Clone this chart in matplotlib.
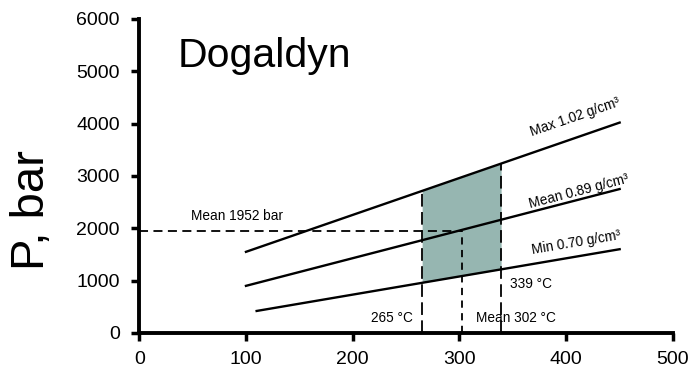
import matplotlib
matplotlib.use("Agg")
import matplotlib.pyplot as plt
import numpy as np

plt.rcParams['font.family'] = ['Liberation Sans', 'DejaVu Sans']

# Data
t_max = [100, 450]
p_max = [1550, 4020]
t_mean = [100, 450]
p_mean = [900, 2750]
t_min = [110, 450]
p_min = [420, 1600]

t_low, t_high, t_avg = 265, 339, 302
p_avg = 1952

xticks = [0, 100, 200, 300, 400, 500]
yticks = [0, 1000, 2000, 3000, 4000, 5000, 6000]

fig = plt.figure(figsize=(6.96, 3.72), dpi=100)
ax = fig.add_axes([0.2, 0.105, 0.767, 0.844])

def interp(t, ts, ps):
    return np.interp(t, ts, ps)

# shaded region
xs = np.linspace(t_low, t_high, 50)
ax.fill_between(xs, interp(xs, t_min, p_min), interp(xs, t_max, p_max),
                color='#96b6b1', linewidth=0, zorder=1)

# lines
for ts, ps in [(t_max, p_max), (t_mean, p_mean), (t_min, p_min)]:
    ax.plot(ts, ps, color='black', linewidth=1.7, zorder=3)

# dashed guides
ax.plot([0, t_avg], [p_avg, p_avg], color='black', linewidth=1.3,
        linestyle=(0, (5, 3)), zorder=2, clip_on=False)
ax.plot([t_avg, t_avg], [0, p_avg], color='black', linewidth=1.3,
        linestyle=(0, (4, 3)), zorder=2)
ax.plot([t_low, t_low], [0, interp(t_low, t_max, p_max)], color='black',
        linewidth=1.3, linestyle=(0, (7, 3)), zorder=2)
ax.plot([t_high, t_high], [0, interp(t_high, t_max, p_max)], color='black',
        linewidth=1.3, linestyle=(0, (7, 3)), zorder=2)

# labels
fs = 9.8
ax.text(408, 4120, 'Max 1.02 g/cm³', rotation=19, ha='center', va='center', fontsize=fs)
ax.text(412, 2710, 'Mean 0.89 g/cm³', rotation=14.5, ha='center', va='center', fontsize=fs)
ax.text(409, 1730, 'Min 0.70 g/cm³', rotation=9.6, ha='center', va='center', fontsize=fs)
ax.text(92, 2240, 'Mean 1952 bar', ha='center', va='center', fontsize=fs)
ax.text(256, 287, '265 °C', ha='right', va='center', fontsize=fs)
ax.text(315, 287, 'Mean 302 °C', ha='left', va='center', fontsize=fs)
ax.text(347, 937, '339 °C', ha='left', va='center', fontsize=fs)
ax.text(36, 5300, 'Dogaldyn', ha='left', va='center', fontsize=29.5)

ax.set_xlim(0, 500)
ax.set_ylim(0, 6000)
ax.set_xticks(xticks)
ax.set_yticks(yticks)
ax.tick_params(labelsize=14, width=2.5, length=6, direction='out')
ax.tick_params(axis='y', pad=8)
ax.tick_params(axis='x', pad=7)
ax.set_ylabel('P, bar', fontsize=34)
ax.yaxis.set_label_coords(-0.16, 0.39)

for s in ['top', 'right']:
    ax.spines[s].set_visible(False)
for s in ['left', 'bottom']:
    ax.spines[s].set_linewidth(2.8)

fig.savefig('out.png', dpi=100)
